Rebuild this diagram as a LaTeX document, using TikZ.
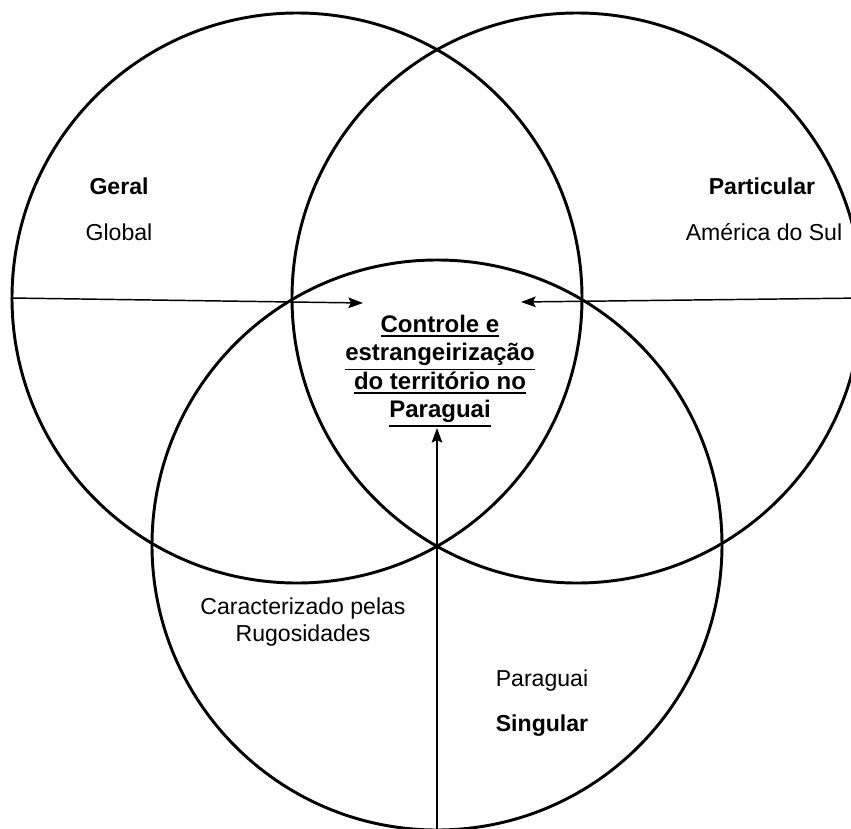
\documentclass[tikz,border=0pt]{standalone}
\usepackage{fontspec}
\setmainfont{Liberation Sans}
\usetikzlibrary{arrows.meta}
\newcommand{\undl}[1]{\leavevmode\vtop{\hbox{#1}\kern2pt\hrule height 1.4pt}}

\begin{document}
\begin{tikzpicture}[x=0.75pt,y=-0.75pt,
  ring/.style={circle,draw,line width=2.2pt,minimum size=427.5pt,inner sep=0pt},
  lbl/.style={font=\fontsize{17.3}{20}\selectfont,inner sep=0pt,anchor=base,align=center},
  seta/.style={-{Stealth[length=11pt,width=8pt,inset=2pt]},line width=1.1pt}]
\useasboundingbox (0,0) rectangle (851,829);
\node (geral) at (297,298) [ring] {};
\node (particular) at (577,298) [ring] {};
\node (singular) at (437,545) [ring] {};
\node (tema) at (440,371) [font=\fontsize{18}{21.2}\selectfont\bfseries,inner sep=0pt,align=center]
  {\undl{Controle e}\\\undl{estrangeirização}\\\undl{do território no}\\\undl{Paraguai}};
\node (geraltxt) at (119,194) [lbl] {\bfseries Geral};
\node (global) at (119,240) [lbl] {Global};
\node (particulartxt) at (762,194) [lbl] {\bfseries Particular};
\node (america) at (764,240) [lbl] {América do Sul};
\node (rugos) at (303,641) [lbl] {Caracterizado pelas\\Rugosidades};
\node (paraguai) at (542,686) [lbl] {Paraguai};
\node (singulartxt) at (542,731) [lbl] {\bfseries Singular};
\coordinate (inL) at (363,303);
\coordinate (inR) at (521,302);
\coordinate (inB) at (437,428);
\draw[seta] (geral.west) -- (inL);
\draw[seta] (particular.east) -- (inR);
\draw[seta] (singular.south) -- (inB);
\end{tikzpicture}
\end{document}
